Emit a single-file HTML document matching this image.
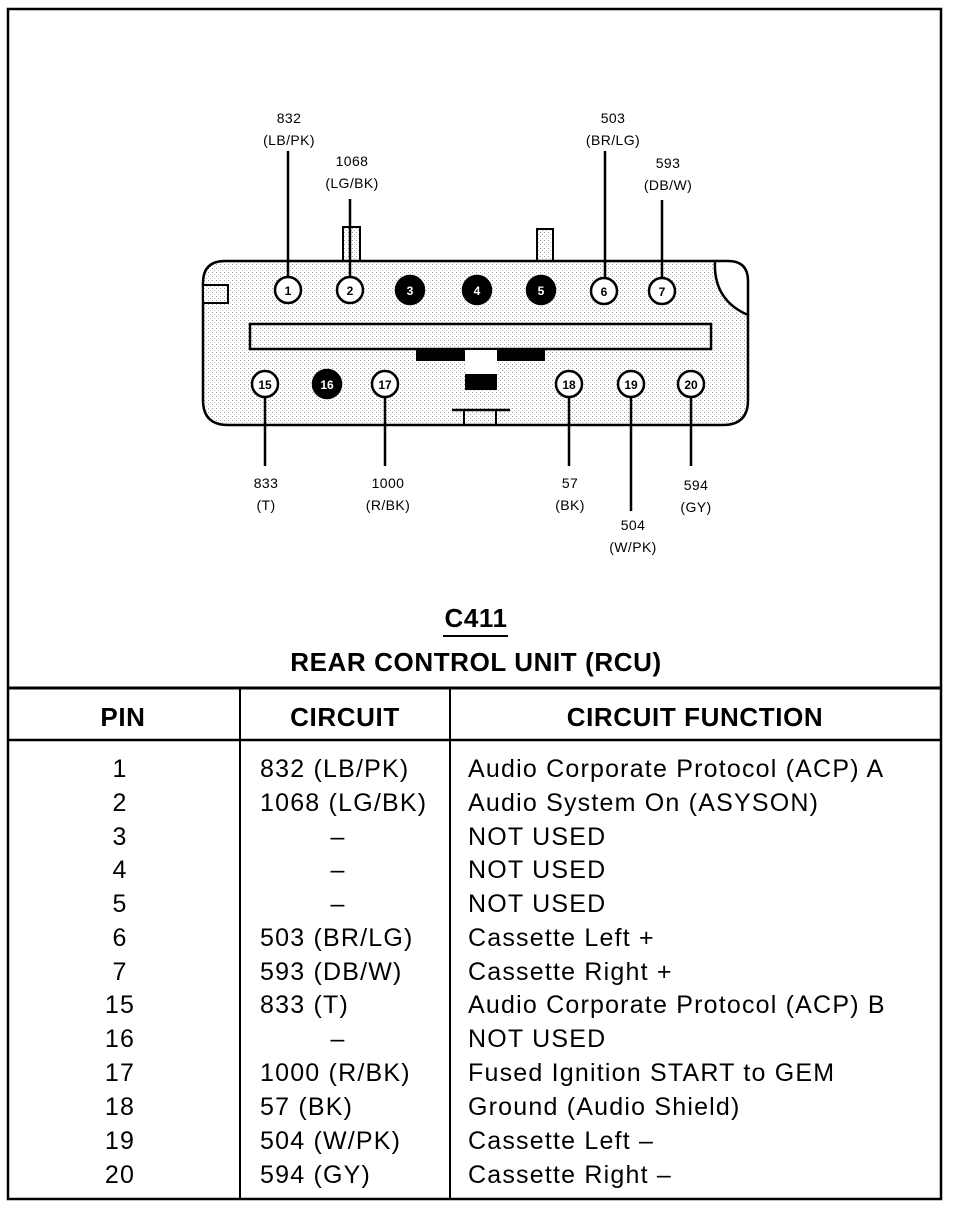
<!DOCTYPE html>
<html><head><meta charset="utf-8"><style>
html,body{margin:0;padding:0;background:#fff;}
svg{display:block;}
.s{font-family:"Liberation Sans",sans-serif;font-size:14px;letter-spacing:0.4px;fill:#000;text-anchor:middle;}
.p{font-family:"Liberation Sans",sans-serif;font-size:12px;font-weight:bold;text-anchor:middle;}
.t{font-family:"Liberation Sans",sans-serif;font-size:25px;letter-spacing:1.2px;fill:#000;}
.h{font-family:"Liberation Sans",sans-serif;font-size:26px;letter-spacing:0.6px;font-weight:bold;fill:#000;text-anchor:middle;}
</style></head><body>
<svg width="960" height="1210" viewBox="0 0 960 1210" xmlns="http://www.w3.org/2000/svg">
<defs>
<pattern id="dots" width="4" height="4" patternUnits="userSpaceOnUse">
<rect width="4" height="4" fill="#fff"/><rect width="1" height="1" fill="#999"/><rect x="2" y="2" width="1" height="1" fill="#bbb"/>
</pattern>
</defs>
<rect x="8" y="9" width="933" height="1190" fill="none" stroke="#000" stroke-width="2.5"/>
<line x1="8" y1="688" x2="941" y2="688" stroke="#000" stroke-width="3"/>
<line x1="8" y1="740" x2="941" y2="740" stroke="#000" stroke-width="2.5"/>
<line x1="240" y1="688" x2="240" y2="1199" stroke="#000" stroke-width="2"/>
<line x1="450" y1="688" x2="450" y2="1199" stroke="#000" stroke-width="2"/>

<rect x="343" y="227" width="17" height="35" fill="url(#dots)" stroke="#000" stroke-width="2"/>
<rect x="537" y="229" width="16" height="33" fill="url(#dots)" stroke="#000" stroke-width="2"/>
<path d="M225 261 L715 261 Q713 300 748 315 L748 400 Q748 425 723 425 L228 425 Q203 425 203 400 L203 283 Q203 261 225 261 Z" fill="url(#dots)" stroke="#000" stroke-width="2.5"/>
<path d="M715 261 L728 261 Q748 261 748 281 L748 315" fill="none" stroke="#000" stroke-width="2.5"/>
<rect x="203" y="285" width="25" height="18" fill="url(#dots)" stroke="#000" stroke-width="2"/>
<rect x="250" y="324" width="461" height="25" fill="url(#dots)" stroke="#000" stroke-width="2.5"/>
<rect x="416" y="349" width="129" height="12" fill="#000"/>
<rect x="465" y="350" width="32" height="24" fill="#fff"/>
<rect x="465" y="374" width="32" height="16" fill="#000"/>
<line x1="452" y1="410" x2="510" y2="410" stroke="#000" stroke-width="2.5"/>
<line x1="464" y1="410" x2="464" y2="425" stroke="#000" stroke-width="2"/>
<line x1="496" y1="410" x2="496" y2="425" stroke="#000" stroke-width="2"/>

<g stroke="#000" stroke-width="2.5">
<line x1="288" y1="151" x2="288" y2="277"/>
<line x1="350" y1="199" x2="350" y2="277"/>
<line x1="605" y1="151" x2="605" y2="277"/>
<line x1="662" y1="200" x2="662" y2="277"/>
<line x1="265" y1="397" x2="265" y2="466"/>
<line x1="385" y1="397" x2="385" y2="466"/>
<line x1="569" y1="397" x2="569" y2="466"/>
<line x1="631" y1="397" x2="631" y2="511"/>
<line x1="691" y1="397" x2="691" y2="466"/>
</g>

<g stroke="#000" stroke-width="2.5">
<circle cx="288" cy="290" r="13" fill="#fff"/>
<circle cx="350" cy="290" r="13" fill="#fff"/>
<circle cx="410" cy="290" r="14" fill="#000"/>
<circle cx="477" cy="290" r="14" fill="#000"/>
<circle cx="541" cy="290" r="14" fill="#000"/>
<circle cx="604" cy="291" r="13" fill="#fff"/>
<circle cx="662" cy="291" r="13" fill="#fff"/>
<circle cx="265" cy="384" r="13" fill="#fff"/>
<circle cx="327" cy="384" r="14" fill="#000"/>
<circle cx="385" cy="384" r="13" fill="#fff"/>
<circle cx="569" cy="384" r="13" fill="#fff"/>
<circle cx="631" cy="384" r="13" fill="#fff"/>
<circle cx="691" cy="384" r="13" fill="#fff"/>
</g>
<g class="p">
<text x="288" y="295">1</text><text x="350" y="295">2</text>
<text x="410" y="295" fill="#fff">3</text><text x="477" y="295" fill="#fff">4</text><text x="541" y="295" fill="#fff">5</text>
<text x="604" y="296">6</text><text x="662" y="296">7</text>
<text x="265" y="389">15</text><text x="327" y="389" fill="#fff">16</text><text x="385" y="389">17</text>
<text x="569" y="389">18</text><text x="631" y="389">19</text><text x="691" y="389">20</text>
</g>

<g class="s">
<text x="289" y="123">832</text><text x="289" y="145">(LB/PK)</text>
<text x="352" y="166">1068</text><text x="352" y="188">(LG/BK)</text>
<text x="613" y="123">503</text><text x="613" y="145">(BR/LG)</text>
<text x="668" y="168">593</text><text x="668" y="190">(DB/W)</text>
<text x="266" y="488">833</text><text x="266" y="510">(T)</text>
<text x="388" y="488">1000</text><text x="388" y="510">(R/BK)</text>
<text x="570" y="488">57</text><text x="570" y="510">(BK)</text>
<text x="633" y="530">504</text><text x="633" y="552">(W/PK)</text>
<text x="696" y="490">594</text><text x="696" y="512">(GY)</text>
</g>

<text x="476" y="627" class="h" style="font-size:26px">C411</text>
<line x1="443" y1="636" x2="508" y2="636" stroke="#000" stroke-width="2"/>
<text x="476" y="671" class="h">REAR CONTROL UNIT (RCU)</text>

<text x="123" y="726" class="h">PIN</text>
<text x="345" y="726" class="h">CIRCUIT</text>
<text x="695" y="726" class="h">CIRCUIT FUNCTION</text>

<g class="t">
<text x="120" y="777" text-anchor="middle">1</text><text x="260" y="777">832 (LB/PK)</text><text x="468" y="777">Audio Corporate Protocol (ACP) A</text>
<text x="120" y="811" text-anchor="middle">2</text><text x="260" y="811">1068 (LG/BK)</text><text x="468" y="811">Audio System On (ASYSON)</text>
<text x="120" y="845" text-anchor="middle">3</text><text x="338" y="845" text-anchor="middle">–</text><text x="468" y="845">NOT USED</text>
<text x="120" y="878" text-anchor="middle">4</text><text x="338" y="878" text-anchor="middle">–</text><text x="468" y="878">NOT USED</text>
<text x="120" y="912" text-anchor="middle">5</text><text x="338" y="912" text-anchor="middle">–</text><text x="468" y="912">NOT USED</text>
<text x="120" y="946" text-anchor="middle">6</text><text x="260" y="946">503 (BR/LG)</text><text x="468" y="946">Cassette Left +</text>
<text x="120" y="980" text-anchor="middle">7</text><text x="260" y="980">593 (DB/W)</text><text x="468" y="980">Cassette Right +</text>
<text x="120" y="1013" text-anchor="middle">15</text><text x="260" y="1013">833 (T)</text><text x="468" y="1013">Audio Corporate Protocol (ACP) B</text>
<text x="120" y="1047" text-anchor="middle">16</text><text x="338" y="1047" text-anchor="middle">–</text><text x="468" y="1047">NOT USED</text>
<text x="120" y="1081" text-anchor="middle">17</text><text x="260" y="1081">1000 (R/BK)</text><text x="468" y="1081">Fused Ignition START to GEM</text>
<text x="120" y="1115" text-anchor="middle">18</text><text x="260" y="1115">57 (BK)</text><text x="468" y="1115">Ground (Audio Shield)</text>
<text x="120" y="1149" text-anchor="middle">19</text><text x="260" y="1149">504 (W/PK)</text><text x="468" y="1149">Cassette Left –</text>
<text x="120" y="1183" text-anchor="middle">20</text><text x="260" y="1183">594 (GY)</text><text x="468" y="1183">Cassette Right –</text>
</g>
</svg>
</body></html>
